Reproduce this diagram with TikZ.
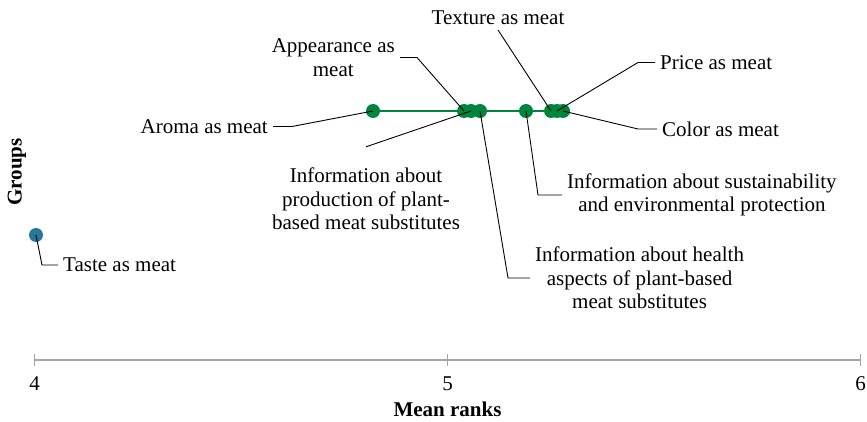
\documentclass[tikz,border=0pt]{standalone}
\usepackage{fontspec}
\setmainfont{Liberation Serif}
\usetikzlibrary{calc}
\definecolor{dotgreen}{RGB}{0,133,62}
\definecolor{dotblue}{RGB}{40,120,155}
\definecolor{axisgray}{RGB}{165,165,165}

\begin{document}
\begin{tikzpicture}[x=1pt,y=-1pt,
    lbl/.style={font=\fontsize{21}{23.5}\selectfont, align=center, inner sep=5pt},
    bold lbl/.style={lbl, font=\fontsize{21}{23.5}\selectfont\bfseries},
    gdot/.style={circle, fill=dotgreen, minimum size=14pt, inner sep=0pt},
    lead/.style={black, line width=0.9pt}]
            \useasboundingbox (0,0) rectangle (867,422);
            \node[gdot, fill=dotblue] at (36,235) (d0) {};
            \foreach \n/\x in {1/373,2/464,3/471,4/480,5/526,6/551,7/557,8/563}
            \node[gdot] at (\x,111) (d\n) {};
            \draw[dotgreen, line width=1.2pt] (d1) -- (d8);
            \node[lbl, anchor=east] at (273,126.5) (l1) {Aroma as meat};
            \node[lbl, anchor=east] at (400,57.5) (l2) {Appearance as\\meat};
            \node[lbl] at (366,199) (l3) {Information about\\production of plant-\\based meat substitutes};
            \node[lbl, anchor=west] at (530,278) (l4) {Information about health\\aspects of plant-based\\meat substitutes};
            \node[lbl, anchor=west] at (562,195) (l5) {Information about sustainability\\and environmental protection};
            \node[lbl, anchor=south] at (498,30) (l6) {Texture as meat};
            \node[lbl, anchor=west] at (655,62.5) (l7) {Price as meat};
            \node[lbl, anchor=west] at (657,129) (l8) {Color as meat};
            \node[lbl, anchor=west] at (58,265) (l0) {Taste as meat};
            \draw[lead] (l1.east) -- ++(19,0) -- (d1.center);
            \draw[lead] (l2.east) -- ++(17,0) -- (d2.center);
            \draw[lead] ([yshift=16pt]l3.north) -- (d3.center);
            \draw[lead] (l4.west) -- ++(-22,0) -- (d4.center);
            \draw[lead] (l5.west) -- ++(-24,0) -- (d5.center);
            \draw[lead] (l6.south) -- (d6.center);
            \draw[lead] (l7.west) -- ++(-17,0) -- (d7.center);
            \draw[lead] (l8.west) -- ++(-19,0) -- (d8.center);
            \draw[lead] (l0.west) -- ++(-16,0) -- (d0.center);
            \draw[axisgray, line width=1.5pt] (34.5,360) -- (860.5,360);
            \foreach \v/\x in {4/34.5,5/447.5,6/860.5}{
            \draw[axisgray, line width=1.2pt] (\x,354) -- (\x,366);
            \node[lbl, inner sep=0pt] at (\x,384) (t\v) {\v};
            }
            \node[bold lbl] at (447.5,409) (xl) {Mean ranks};
            \node[bold lbl, rotate=90] at (17,172) (yl) {Groups};
        \end{tikzpicture}
\end{document}
